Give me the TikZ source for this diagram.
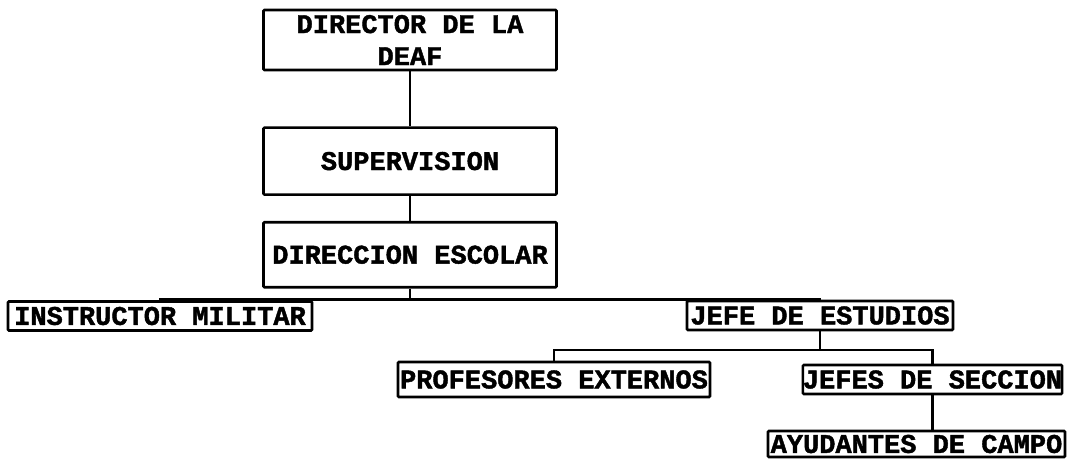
\documentclass[tikz,border=0pt]{standalone}
\usepackage{fontspec}
\setmonofont[BoldFeatures={FakeBold=1.5}]{Liberation Mono}
\usetikzlibrary{positioning}

\begin{document}
\begin{tikzpicture}[
    x=1pt, y=-1pt,
    orgnode/.style={rectangle, draw=black, line width=2.6pt, rounded corners=1pt, inner sep=0pt, align=center, font=\ttfamily\bfseries\fontsize{27}{32}\selectfont},
    bignode/.style={orgnode, minimum width=293pt},
    smallnode/.style={orgnode, minimum height=29pt},
    link/.style={draw, line width=2.2pt, black}
]
    \useasboundingbox (0,0) rectangle (1074,458);

    \node [bignode, minimum height=60pt] (director) at (410,40) {DIRECTOR DE LA\\DEAF};

    \node [bignode, minimum height=67pt, below=55pt of director] (supervision) {SUPERVISION};

    \node [bignode, minimum height=65pt, below=25pt of supervision] (direccion) {DIRECCION ESCOLAR};

    \node [smallnode, minimum width=304pt] (instructor) at (160,316) {INSTRUCTOR MILITAR};

    \node [smallnode, minimum width=266pt] (jefeest) at (820,315.5) {JEFE DE ESTUDIOS};

    \node [smallnode, minimum width=312pt, minimum height=35pt] (profesores) at (554,379.5) {PROFESORES EXTERNOS};

    \node [smallnode, minimum width=259pt] (jefesec) at (932.5,379.5) {JEFES DE SECCION};

    \node [smallnode, minimum width=297pt, minimum height=26pt] (ayudantes) at (916.5,444) {AYUDANTES DE CAMPO};

    \draw [link] (director.south) -- (supervision.north);
    \draw [link] (supervision.south) -- (direccion.north);
    \draw [link] (direccion.south) -- ++(0,11) -| (instructor.north);
    \draw [link] (direccion.south) -- ++(0,11) -| (jefeest.north);
    \draw [link] (jefeest.south) -- ++(0,19) -| (profesores.north);
    \draw [link] (jefeest.south) -- ++(0,19) -| (jefesec.north);
    \draw [link] (jefesec.south) -- (jefesec.south |- ayudantes.north);

\end{tikzpicture}
\end{document}
